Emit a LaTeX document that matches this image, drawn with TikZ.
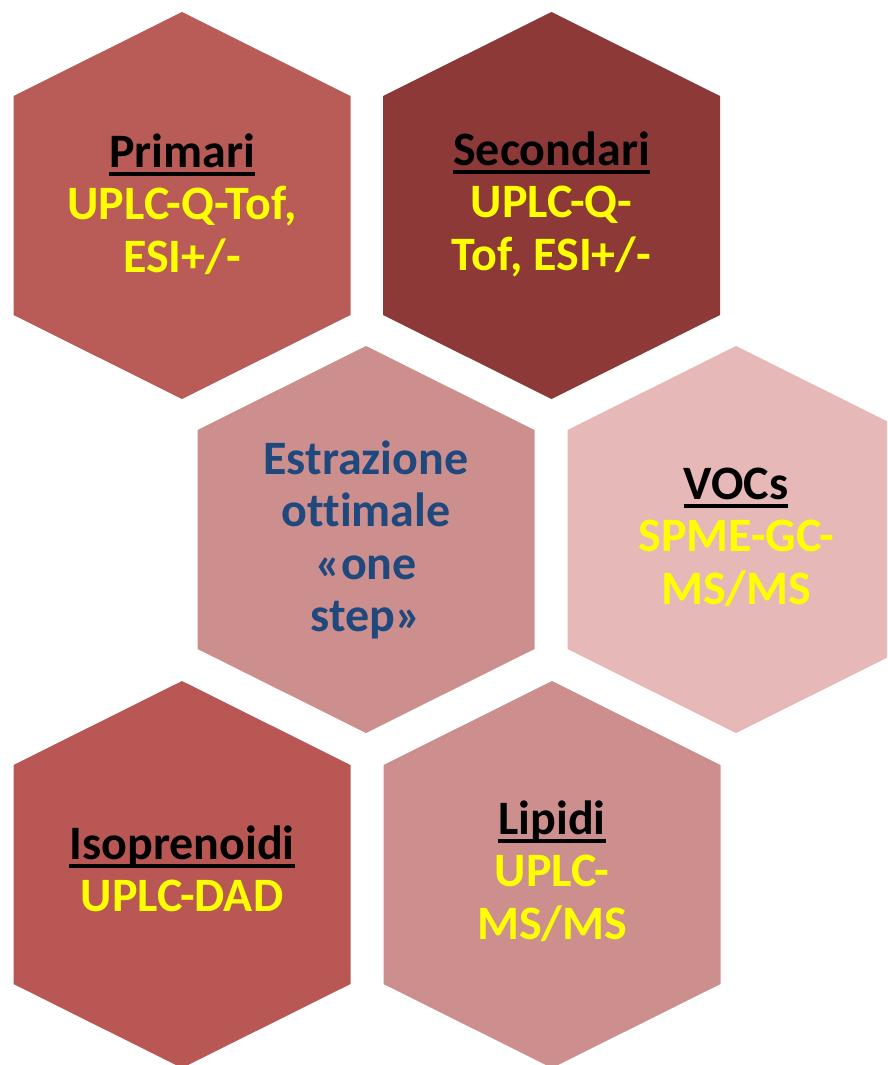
\documentclass[tikz,border=0pt]{standalone}
\usepackage{fontspec}
\setmainfont{Carlito}[Ligatures=NoCommon]
\definecolor{cPrim}{HTML}{B95B57}
\definecolor{cSec}{HTML}{8C3938}
\definecolor{cEst}{HTML}{CD8F8E}
\definecolor{cVoc}{HTML}{E6B8B7}
\definecolor{cIso}{HTML}{B85753}
\definecolor{cLip}{HTML}{CD8F8E}
\definecolor{yel}{HTML}{FFFF00}
\definecolor{navy}{HTML}{1F497D}
\newcommand{\hexfill}[3]{%
  \fill[#3] (#1,{#2-193.5}) -- ({#1+168.5},{#2-109.5}) -- ({#1+168.5},{#2+109.5})
    -- (#1,{#2+193.5}) -- ({#1-168.5},{#2+109.5}) -- ({#1-168.5},{#2-109.5}) -- cycle;}
\newcommand{\ttl}[1]{\setbox0\hbox{#1}\rlap{\rule[-8.5pt]{\wd0}{4pt}}\box0}
\newcommand{\ye}[1]{\textcolor{yel}{#1}}
\tikzset{lbl/.style={align=center, inner sep=0pt, text=black,
  font=\fontsize{48}{52.5}\selectfont\bfseries}}
\begin{document}
\begin{tikzpicture}[x=1pt,y=-1pt]
\useasboundingbox (0,0) rectangle (887,1065);
\fill[white] (0,0) rectangle (887,1065);
\begin{scope}
\clip (0,0) rectangle (887,1065);
\hexfill{182}{205.5}{cPrim}
\hexfill{551.5}{205.5}{cSec}
\hexfill{366}{539.5}{cEst}
\hexfill{736}{539.5}{cVoc}
\hexfill{182}{874.5}{cIso}
\hexfill{552}{874.5}{cLip}
\end{scope}
\node[lbl] (primari) at (182,204) {\ttl{Primari}\\\ye{UPLC-Q-Tof,}\\\ye{ESI+/-}};
\node[lbl] (secondari) at (551.5,204) {\ttl{Secondari}\\\ye{UPLC-Q-}\\\ye{Tof, ESI+/-}};
\node[lbl, text=navy] (estrazione) at (366,540) {Estrazione\\ottimale\\«one\\step»};
\node[lbl] (vocs) at (736,537) {\ttl{VOCs}\\\ye{SPME-GC-}\\\ye{MS/MS}};
\node[lbl] (iso) at (182,869) {\ttl{Isoprenoidi}\\\ye{UPLC-DAD}};
\node[lbl] (lipidi) at (552,871) {\ttl{Lipidi}\\\ye{UPLC-}\\\ye{MS/MS}};
\end{tikzpicture}
\end{document}
